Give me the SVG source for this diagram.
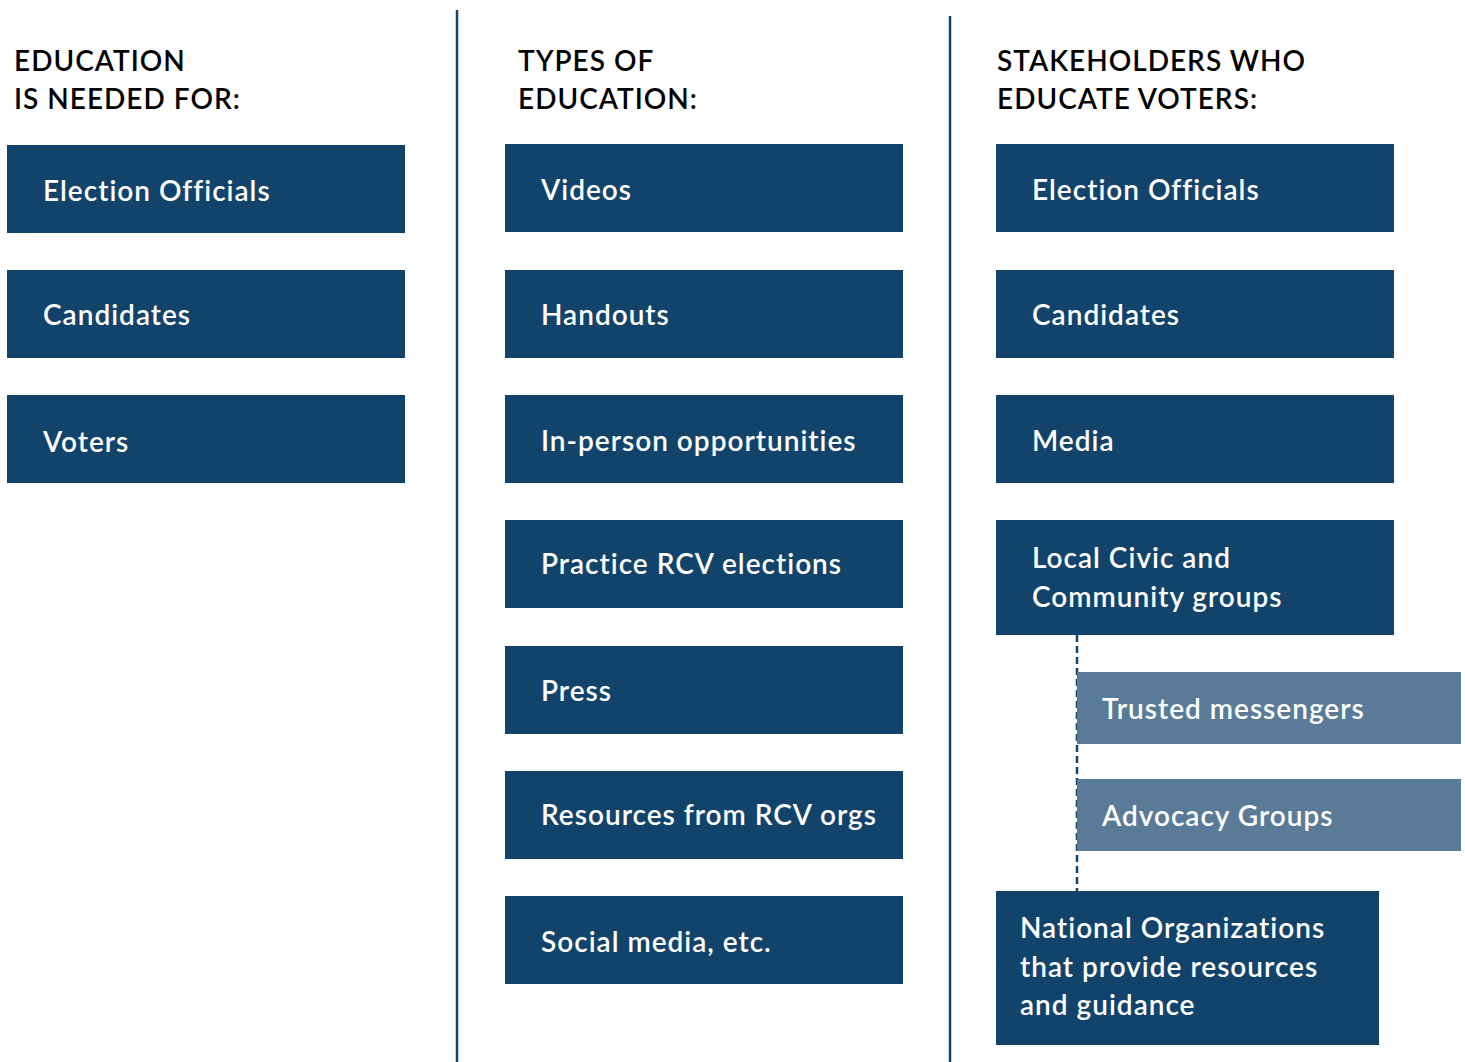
<svg xmlns="http://www.w3.org/2000/svg" width="1465" height="1062" viewBox="0 0 1465 1062">
<style>
.bg{fill:#ffffff}
.box{fill:#12436b}
.sub{fill:#5a7b98}
.lbl{font-family:Lato,"Liberation Sans",sans-serif;font-size:28px;font-weight:600;fill:#ffffff;letter-spacing:1px}
.hdr{font-family:Lato,"Liberation Sans",sans-serif;font-size:28px;font-weight:600;fill:#000000;letter-spacing:1px}
.sep{stroke:#12436b;stroke-width:2.5;fill:none}
.dash{stroke:#12436b;stroke-width:2.5;stroke-dasharray:7 4;fill:none}
</style>
<rect class="bg" x="0" y="0" width="1465" height="1062"/>
<g id="separators">
<line class="sep" x1="457" y1="10" x2="457" y2="1062"/>
<line class="sep" x1="950" y1="16" x2="950" y2="1062"/>
</g>
<g id="headers">
<text class="hdr" x="14" y="71">EDUCATION</text>
<text class="hdr" x="14" y="109">IS NEEDED FOR:</text>
<text class="hdr" x="518" y="71">TYPES OF</text>
<text class="hdr" x="518" y="109">EDUCATION:</text>
<text class="hdr" x="997" y="71">STAKEHOLDERS WHO</text>
<text class="hdr" x="997" y="109">EDUCATE VOTERS:</text>
</g>
<g id="connectors">
<line class="dash" x1="1077" y1="635" x2="1077" y2="891"/>
</g>
<g id="n-c1-election"><rect class="box" x="7" y="145" width="398" height="88"/><text class="lbl" x="43" y="201">Election Officials</text></g>
<g id="n-c1-candidates"><rect class="box" x="7" y="270" width="398" height="88"/><text class="lbl" x="43" y="325">Candidates</text></g>
<g id="n-c1-voters"><rect class="box" x="7" y="395" width="398" height="88"/><text class="lbl" x="43" y="452">Voters</text></g>
<g id="n-c2-videos"><rect class="box" x="505" y="144" width="398" height="88"/><text class="lbl" x="541" y="200">Videos</text></g>
<g id="n-c2-handouts"><rect class="box" x="505" y="270" width="398" height="88"/><text class="lbl" x="541" y="325">Handouts</text></g>
<g id="n-c2-inperson"><rect class="box" x="505" y="395" width="398" height="88"/><text class="lbl" x="541" y="451">In-person opportunities</text></g>
<g id="n-c2-practice"><rect class="box" x="505" y="520" width="398" height="88"/><text class="lbl" x="541" y="574">Practice RCV elections</text></g>
<g id="n-c2-press"><rect class="box" x="505" y="646" width="398" height="88"/><text class="lbl" x="541" y="701">Press</text></g>
<g id="n-c2-resources"><rect class="box" x="505" y="771" width="398" height="88"/><text class="lbl" x="541" y="825">Resources from RCV orgs</text></g>
<g id="n-c2-social"><rect class="box" x="505" y="896" width="398" height="88"/><text class="lbl" x="541" y="952">Social media, etc.</text></g>
<g id="n-c3-election"><rect class="box" x="996" y="144" width="398" height="88"/><text class="lbl" x="1032" y="200">Election Officials</text></g>
<g id="n-c3-candidates"><rect class="box" x="996" y="270" width="398" height="88"/><text class="lbl" x="1032" y="325">Candidates</text></g>
<g id="n-c3-media"><rect class="box" x="996" y="395" width="398" height="88"/><text class="lbl" x="1032" y="451">Media</text></g>
<g id="n-c3-local"><rect class="box" x="996" y="520" width="398" height="115"/><text class="lbl" x="1032" y="568">Local Civic and</text><text class="lbl" x="1032" y="607">Community groups</text></g>
<g id="n-c3-trusted"><rect class="sub" x="1077" y="672" width="384" height="72"/><text class="lbl" x="1102" y="719">Trusted messengers</text></g>
<g id="n-c3-advocacy"><rect class="sub" x="1077" y="779" width="384" height="72"/><text class="lbl" x="1102" y="826">Advocacy Groups</text></g>
<g id="n-c3-national"><rect class="box" x="996" y="891" width="383" height="154"/><text class="lbl" x="1020" y="938">National Organizations</text><text class="lbl" x="1020" y="977">that provide resources</text><text class="lbl" x="1020" y="1015">and guidance</text></g>
</svg>
